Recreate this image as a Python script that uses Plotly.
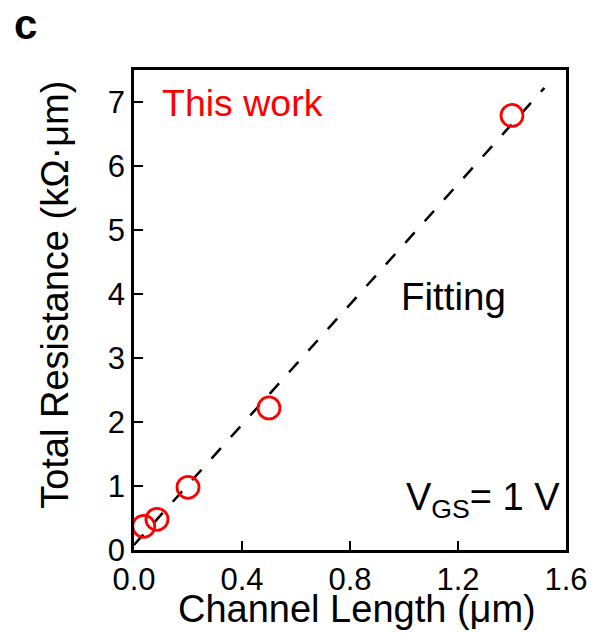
import plotly.graph_objects as go

# Data
length_um = [0.036, 0.085, 0.20, 0.50, 1.40]
resistance = [0.37, 0.48, 0.98, 2.22, 6.79]
fit_x = [0.0, 1.52]
fit_y = [0.08, 7.22]
x_ticks = [0.0, 0.4, 0.8, 1.2, 1.6]
x_ticklabels = ["0.0", "0.4", "0.8", "1.2", "1.6"]
y_ticks = [0, 1, 2, 3, 4, 5, 6, 7]

W, H = 600, 634
L, R, T, B = 134, 24, 69.5, 83.5
FONT = "Liberation Sans, Arial, Helvetica, sans-serif"

def px(x):
    return (x - L) / (W - L - R)

def py(y):
    return (H - B - y) / (H - T - B)

fig = go.Figure()
fig.add_trace(go.Scatter(x=fit_x, y=fit_y, mode="lines",
                         line=dict(color="black", width=2.5, dash="14px,15px"),
                         showlegend=False, hoverinfo="skip"))
fig.add_trace(go.Scatter(x=length_um, y=resistance, mode="markers",
                         marker=dict(symbol="circle-open", size=22, color="#ff0000",
                                     line=dict(width=2.8, color="#ff0000")),
                         showlegend=False))

axis_common = dict(showline=True, linewidth=2.5, linecolor="black", mirror=True,
                   ticks="inside", ticklen=9, tickwidth=2, tickcolor="black",
                   showgrid=False, zeroline=False,
                   tickfont=dict(family=FONT, size=31, color="black"))

fig.update_xaxes(range=[0, 1.6], tickvals=x_ticks, ticktext=x_ticklabels, **axis_common)
fig.update_yaxes(range=[0, 7.5], tickvals=y_ticks, **axis_common)

ann = []
ann.append(dict(text="Channel Length (μm)", x=px(362), y=py(610), xref="paper", yref="paper",
                xanchor="center", yanchor="middle", showarrow=False,
                font=dict(family=FONT, size=38, color="black")))
ann.append(dict(text="Total Resistance (kΩ·μm)", x=px(53), y=py(295), xref="paper", yref="paper",
                xanchor="center", yanchor="middle", showarrow=False, textangle=-90,
                font=dict(family=FONT, size=38, color="black")))
ann.append(dict(text="This work", x=px(161), y=py(103), xref="paper", yref="paper",
                xanchor="left", yanchor="middle", showarrow=False,
                font=dict(family=FONT, size=37.5, color="#ff0000")))
ann.append(dict(text="Fitting", x=px(405), y=py(296), xref="paper", yref="paper",
                xanchor="left", yanchor="middle", showarrow=False,
                font=dict(family=FONT, size=38.5, color="black")))
ann.append(dict(text="V<sub>GS</sub>= 1 V", x=px(410), y=py(500), xref="paper", yref="paper",
                xanchor="left", yanchor="middle", showarrow=False,
                font=dict(family=FONT, size=38, color="black")))
ann.append(dict(text="<b>c</b>", x=px(9), y=py(24), xref="paper", yref="paper",
                xanchor="left", yanchor="middle", showarrow=False,
                font=dict(family=FONT, size=42, color="black")))

fig.update_layout(width=W, height=H, margin=dict(l=L, r=R, t=T, b=B),
                  plot_bgcolor="white", paper_bgcolor="white",
                  annotations=ann, font=dict(family=FONT))

fig.write_html("out.html")
